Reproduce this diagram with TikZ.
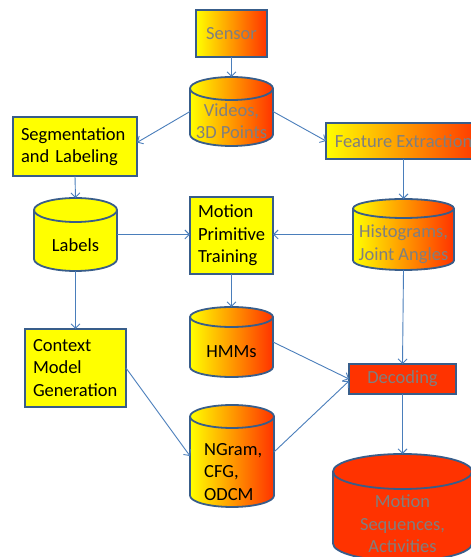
\documentclass[tikz,border=0pt]{standalone}
\usepackage{fontspec}
\setmainfont{Carlito}
\usetikzlibrary{arrows.meta}

\definecolor{edge}{HTML}{385D8A}
\definecolor{wire}{HTML}{4A7EBB}
\definecolor{hot}{HTML}{FF3300}
\definecolor{sun}{HTML}{FFFF00}
\definecolor{dim}{HTML}{7F7F7F}

% #1 holder node, #2 half width, #3 cap half height, #4 fill options
\newcommand\drumshape[4]{%
  \path[#4, draw=edge, line width=1.8pt]
    ([yshift=-#3]#1.north west) -- ([yshift=#3]#1.south west)
    arc[start angle=180, end angle=360, x radius=#2, y radius=#3]
    -- ([yshift=-#3]#1.north east)
    arc[start angle=0, end angle=180, x radius=#2, y radius=#3] -- cycle;
  \draw[edge, line width=1.8pt] ([yshift=-#3]#1.north west)
    arc[start angle=180, end angle=360, x radius=#2, y radius=#3];
}

\begin{document}
\begin{tikzpicture}[x=1pt, y=1pt,
  txt/.style={font=\fontsize{18.5}{22.5}\selectfont, inner sep=0pt},
  box/.style={txt, draw=edge, line width=1.8pt, outer sep=0pt},
  hold/.style={inner sep=0pt, outer sep=0pt, draw=none},
  grad/.style={left color=sun, right color=hot},
  wire/.style={draw=wire, line width=0.9pt, -{Straight Barb[length=4.5pt, width=9pt]}}
]
\useasboundingbox (0,0) rectangle (471,557);
\fill[white] (0,0) rectangle (471,557);
\clip (0,0) rectangle (471,557);

% process boxes
\node[box, grad, text=dim, minimum width=71pt, minimum height=47pt]
  (sensor) at (231.5,523.5) {Sensor};
\node[box, fill=sun, minimum width=124pt, minimum height=59pt,
  text width=108pt, align=left] (seg) at (75,410.5) {Segmentation\\and Labeling};
\node[box, grad, text=dim, minimum width=155pt, minimum height=36pt]
  (fe) at (403.5,416) {Feature Extraction};
\node[box, fill=sun, minimum width=83pt, minimum height=77pt,
  text width=67pt, align=left] (mpt) at (231.5,321.5) {Motion\\Primitive\\Training};
\node[box, fill=sun, minimum width=101pt, minimum height=78pt,
  text width=85pt, align=left] (ctx) at (75.5,189) {Context\\Model\\Generation};
\node[box, fill=hot, text=dim, minimum width=107pt, minimum height=30pt]
  (dec) at (402.5,178) {Decoding};

% data stores
\node[hold, minimum width=83pt, minimum height=69pt] (videos) at (231.5,445.5) {};
\drumshape{videos}{41.5pt}{11.5pt}{grad}
\node[txt, text=dim, align=center] (videos-t) at ([yshift=-9.5pt]videos.center) {Videos,\\3D Points};

\node[hold, minimum width=83pt, minimum height=73pt] (labels) at (75.5,322.5) {};
\drumshape{labels}{41.5pt}{12pt}{fill=sun}
\node[txt] (labels-t) at ([yshift=-10.5pt]labels.center) {Labels};

\node[hold, minimum width=101pt, minimum height=71pt] (hist) at (403.5,322.5) {};
\drumshape{hist}{50.5pt}{9.5pt}{grad}
\node[txt, text=dim, align=center] (hist-t) at ([yshift=-9.5pt]hist.center) {Histograms,\\Joint Angles};

\node[hold, minimum width=83pt, minimum height=70pt] (hmm) at (231.5,215) {};
\drumshape{hmm}{41.5pt}{10pt}{grad}
\node[txt] (hmm-t) at ([yshift=-10pt]hmm.center) {HMMs};

\node[hold, minimum width=84pt, minimum height=102pt] (ngram) at (232,101) {};
\drumshape{ngram}{42pt}{11.5pt}{grad}
\node[txt, align=left, anchor=west] (ngram-t) at ([xshift=14pt, yshift=-16pt]ngram.west) {NGram,\\CFG,\\ODCM};

\node[hold, minimum width=139pt, minimum height=107pt] (seq) at (402.5,49.5) {};
\drumshape{seq}{69.5pt}{17.5pt}{fill=hot}
\node[txt, text=dim, align=center] (seq-t) at ([yshift=-16.5pt]seq.center) {Motion\\Sequences,\\Activities};

% connectors
\draw[wire] (sensor.south) -- (videos.north);
\draw[wire] (videos.west) -- ([yshift=4pt]seg.east);
\draw[wire] (videos.east) -- (fe.west);
\draw[wire] (seg.south) -- (labels.north);
\draw[wire] (fe.south) -- (hist.north);
\draw[wire] (labels.east) -- (labels.east -| mpt.west);
\draw[wire] (hist.west) -- (hist.west -| mpt.east);
\draw[wire] (labels.south) -- (ctx.north);
\draw[wire] (mpt.south) -- (hmm.north);
\draw[wire] (hist.south) -- (dec.north);
\draw[wire] (hmm.east) -- (dec.west);
\draw[wire] (ctx.east) -- (ngram.west);
\draw[wire] ([yshift=4pt]ngram.east) -- ([yshift=-2pt]dec.west);
\draw[wire] (dec.south) -- (seq.north);
\end{tikzpicture}
\end{document}
